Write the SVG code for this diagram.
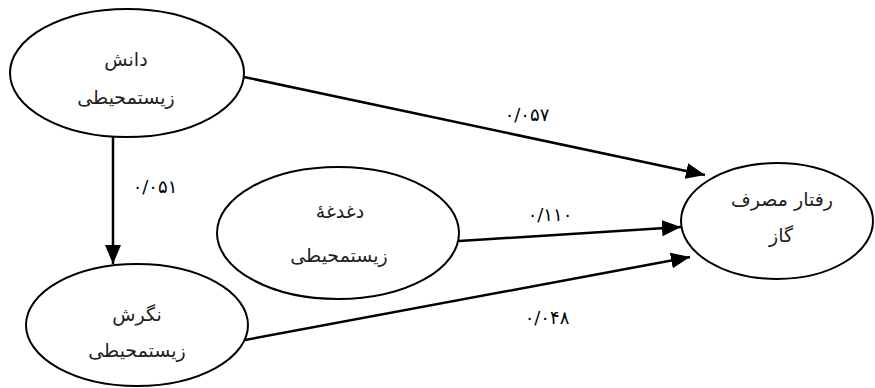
<svg xmlns="http://www.w3.org/2000/svg" width="875" height="388" viewBox="0 0 875 388">
<style>
.n{fill:#fff;stroke:#000;stroke-width:2}
.t{font-family:"DejaVu Sans",sans-serif;font-size:19px;fill:#222;text-anchor:middle}
.c{stroke:#000;stroke-width:2.5;fill:none}
.l{font-family:"DejaVu Sans",sans-serif;font-size:18px;fill:#000;text-anchor:middle}
</style>
<defs>
<marker id="ah" markerUnits="userSpaceOnUse" markerWidth="22" markerHeight="18" refX="19" refY="8" orient="auto">
<path d="M0,0 L19,8 L0,16 Z" fill="#000"/>
</marker>
</defs>
<g id="knowledge">
<ellipse class="n" cx="127" cy="73" rx="117" ry="64"/>
<text class="t" x="126" y="66">دانش</text>
<text class="t" x="126" y="104">زیستمحیطی</text>
</g>
<g id="attitude">
<ellipse class="n" cx="137" cy="325" rx="111" ry="61"/>
<text class="t" x="137" y="321">نگرش</text>
<text class="t" x="137" y="357">زیستمحیطی</text>
</g>
<g id="concern">
<ellipse class="n" cx="338" cy="233" rx="121" ry="66"/>
<text class="t" x="340" y="218">دغدغهٔ</text>
<text class="t" x="339" y="262">زیستمحیطی</text>
</g>
<g id="behavior">
<ellipse class="n" cx="777" cy="221" rx="96" ry="58"/>
<text class="t" x="782" y="206">رفتار مصرف</text>
<text class="t" x="781" y="242">گاز</text>
</g>
<g id="connectors">
<line class="c" x1="244" y1="77" x2="705" y2="175" marker-end="url(#ah)"/>
<line class="c" x1="113" y1="137" x2="113" y2="264" marker-end="url(#ah)"/>
<line class="c" x1="459" y1="241" x2="681" y2="227" marker-end="url(#ah)"/>
<line class="c" x1="245" y1="340" x2="690" y2="257" marker-end="url(#ah)"/>
<text class="l" x="527" y="121">۰/۰۵۷</text>
<text class="l" x="155" y="193">۰/۰۵۱</text>
<text class="l" x="550" y="221">۰/۱۱۰</text>
<text class="l" x="547" y="324">۰/۰۴۸</text>
</g>
</svg>
